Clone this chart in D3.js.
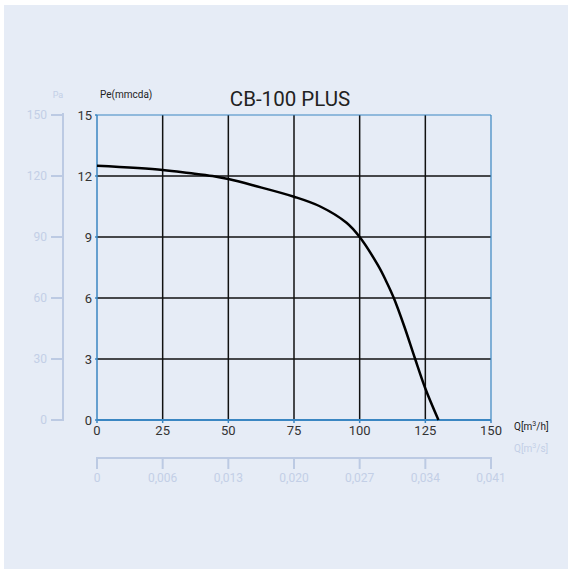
<!DOCTYPE html>
<html><head><meta charset="utf-8">
<script src="https://cdn.jsdelivr.net/npm/d3@7"></script>
<style>body{margin:0;background:#fff}svg{display:block;font-family:Roboto,"DejaVu Sans",sans-serif}</style>
</head><body>
<svg id="c" width="568" height="569"></svg>
<script>
const flowQ = [0, 25, 35, 44, 50, 60, 75, 85, 95, 100, 107, 110, 113, 117, 121, 125, 130];
const pressurePe = [12.5, 12.3, 12.15, 12.0, 11.85, 11.52, 10.98, 10.5, 9.7, 9.0, 7.6, 6.85, 6.0, 4.6, 3.05, 1.55, 0];
const xTicks = [0, 25, 50, 75, 100, 125, 150];
const yTicks = [0, 3, 6, 9, 12, 15];
const paTicks = [0, 30, 60, 90, 120, 150];
const m3sLabels = ["0", "0,006", "0,013", "0,020", "0,027", "0,034", "0,041"];

const svg = d3.select("#c");
svg.append("rect").attr("x",4).attr("y",5).attr("width",564).attr("height",564).attr("fill","#e6ecf6");

const L=97,R=491,T=115,B=420;
const x = d3.scaleLinear().domain([0,150]).range([L,R]);
const y = d3.scaleLinear().domain([0,15]).range([B,T]);
const yPa = d3.scaleLinear().domain([0,150]).range([B,T]);
const light = "#bccae3", lightText = "#c3cfe6", blue = "#3a86c2", dark = "#333";

// grid
const g = svg.append("g");
xTicks.slice(1,-1).forEach(v=>g.append("line").attr("x1",x(v)).attr("x2",x(v)).attr("y1",T).attr("y2",B).attr("stroke","#111").attr("stroke-width",1.5));
yTicks.slice(1,-1).forEach(v=>g.append("line").attr("x1",L).attr("x2",R).attr("y1",y(v)).attr("y2",y(v)).attr("stroke","#111").attr("stroke-width",1.5));
// frame
g.append("line").attr("x1",L).attr("x2",R).attr("y1",T).attr("y2",T).attr("stroke",blue).attr("stroke-width",1.2);
g.append("line").attr("x1",R).attr("x2",R).attr("y1",T).attr("y2",B).attr("stroke",blue).attr("stroke-width",1.2);
g.append("line").attr("x1",L).attr("x2",L).attr("y1",T).attr("y2",B).attr("stroke",blue).attr("stroke-width",1.5);

// curve
const line = d3.line().x((d,i)=>x(flowQ[i])).y(d=>y(d)).curve(d3.curveCatmullRom.alpha(0.5));
svg.append("path").attr("d",line(pressurePe)).attr("fill","none").attr("stroke","#000").attr("stroke-width",2.5);

g.append("line").attr("x1",L).attr("x2",R).attr("y1",B).attr("y2",B).attr("stroke",blue).attr("stroke-width",2.2);

// main axis labels
yTicks.forEach(v=>svg.append("text").attr("x",92).attr("y",y(v)+4.5).attr("text-anchor","end").attr("font-size",13).attr("fill",dark).text(v));
yTicks.forEach(v=>svg.append("line").attr("x1",L-2).attr("x2",L).attr("y1",y(v)).attr("y2",y(v)).attr("stroke",blue).attr("stroke-width",1.5));
xTicks.forEach(v=>svg.append("text").attr("x",x(v)).attr("y",435).attr("text-anchor","middle").attr("font-size",13).attr("fill",dark).text(v));
xTicks.forEach(v=>svg.append("line").attr("x1",x(v)).attr("x2",x(v)).attr("y1",B).attr("y2",B+3).attr("stroke",blue).attr("stroke-width",1.5));

// Pa axis
svg.append("line").attr("x1",63).attr("x2",63).attr("y1",T-2).attr("y2",B+1).attr("stroke",light).attr("stroke-width",2);
paTicks.forEach(v=>{
  svg.append("line").attr("x1",51).attr("x2",64).attr("y1",yPa(v)).attr("y2",yPa(v)).attr("stroke",light).attr("stroke-width",2);
  svg.append("text").attr("x",47).attr("y",yPa(v)+4).attr("text-anchor","end").attr("font-size",12).attr("fill",lightText).text(v);
});
svg.append("text").attr("x",58).attr("y",98).attr("text-anchor","middle").attr("font-size",9).attr("fill",lightText).text("Pa");

// m3/s axis
svg.append("line").attr("x1",L-1).attr("x2",R+1).attr("y1",458).attr("y2",458).attr("stroke",light).attr("stroke-width",2);
xTicks.forEach((v,i)=>{
  svg.append("line").attr("x1",x(v)).attr("x2",x(v)).attr("y1",457).attr("y2",469).attr("stroke",light).attr("stroke-width",2);
  svg.append("text").attr("x",x(v)).attr("y",482).attr("text-anchor","middle").attr("font-size",12).attr("fill",lightText).text(m3sLabels[i]);
});

// titles
svg.append("text").attr("x",290).attr("y",106).attr("text-anchor","middle").attr("font-size",20.5).attr("fill","#222").text("CB-100 PLUS");
svg.append("text").attr("x",100).attr("y",98).attr("font-size",10).attr("fill","#222").text("Pe(mmcda)");
const q1 = svg.append("text").attr("x",514).attr("y",430).attr("font-size",10).attr("fill","#222");
q1.append("tspan").text("Q[m");
q1.append("tspan").attr("dy",-4).attr("font-size",7).text("3");
q1.append("tspan").attr("dy",4).text("/h]");
const q2 = svg.append("text").attr("x",514).attr("y",452).attr("font-size",10).attr("fill",lightText);
q2.append("tspan").text("Q[m");
q2.append("tspan").attr("dy",-4).attr("font-size",7).text("3");
q2.append("tspan").attr("dy",4).text("/s]");
</script>
</body></html>
